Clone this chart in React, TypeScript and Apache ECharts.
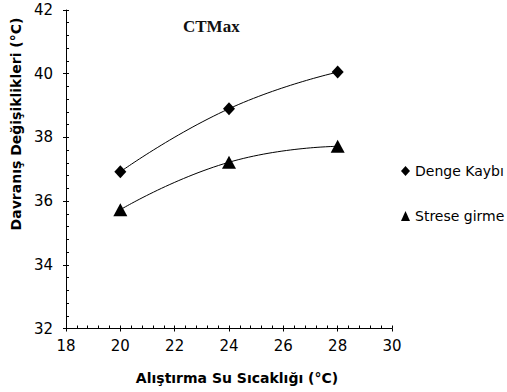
import React, { useEffect, useRef } from "react";
import * as echarts from "echarts";

const xTemps = [20, 24, 28];
const dengeKaybi = [36.92, 38.9, 40.05];
const streseGirme = [35.73, 37.22, 37.72];
const seriesNames = ["Denge Kaybı", "Strese girme"];
const chartTitle = "CTMax";
const xAxisTitle = "Alıştırma Su Sıcaklığı (°C)";
const yAxisTitle = "Davranış Değişiklikleri (°C)";

const SANS = "DejaVu Sans";

export default function App() {
  const ref = useRef<HTMLDivElement>(null);
  useEffect(() => {
    if (!ref.current) return;
    const chart = echarts.init(ref.current, null, { renderer: "svg" });
    const black = "#000";
    const xBase = {
      type: "value",
      min: 18,
      max: 30,
      interval: 2,
      position: "bottom",
      splitLine: { show: false },
    };
    const yBase = {
      type: "value",
      min: 32,
      max: 42,
      interval: 2,
      position: "left",
      splitLine: { show: false },
    };
    chart.setOption({
      animation: false,
      backgroundColor: "#fff",
      grid: { left: 66, right: 115, top: 10, bottom: 63.5, containLabel: false },
      title: {
        text: chartTitle,
        left: 178,
        top: 13,
        textStyle: {
          fontFamily: "Liberation Serif",
          fontSize: 17,
          fontWeight: "bold",
          color: "#111",
        },
      },
      legend: {
        orient: "vertical",
        left: 396,
        top: 159,
        itemWidth: 9,
        itemHeight: 10,
        itemGap: 31,
        textStyle: { fontFamily: SANS, fontSize: 14, color: black },
        data: [
          { name: seriesNames[0], icon: "diamond" },
          { name: seriesNames[1], icon: "triangle" },
        ],
      },
      xAxis: [
        {
          ...xBase,
          axisLine: { show: true, lineStyle: { color: black, width: 1 } },
          axisTick: { show: true, inside: false, length: 3, lineStyle: { color: black } },
          minorTick: { show: false },
          axisLabel: { show: true, margin: 10, fontFamily: SANS, fontSize: 15, color: black },
        },
        {
          ...xBase,
          axisLine: { show: false },
          axisTick: { show: true, inside: true, length: 3, lineStyle: { color: black } },
          minorTick: { show: true, splitNumber: 5, length: 3, lineStyle: { color: black } },
          axisLabel: { show: false },
        },
      ],
      yAxis: [
        {
          ...yBase,
          axisLine: { show: true, lineStyle: { color: black, width: 1 } },
          axisTick: { show: true, inside: false, length: 3, lineStyle: { color: black } },
          minorTick: { show: false },
          axisLabel: { show: true, margin: 13, fontFamily: SANS, fontSize: 15, color: black },
        },
        {
          ...yBase,
          axisLine: { show: false },
          axisTick: { show: true, inside: true, length: 3, lineStyle: { color: black } },
          minorTick: { show: true, splitNumber: 5, length: 3, lineStyle: { color: black } },
          axisLabel: { show: false },
        },
      ],
      graphic: [
        {
          type: "text",
          x: 237,
          y: 378,
          style: {
            text: xAxisTitle,
            fontFamily: SANS,
            fontSize: 14,
            fontWeight: "bold",
            fill: black,
            align: "center",
            verticalAlign: "middle",
          },
        },
        {
          type: "text",
          x: 16,
          y: 124,
          rotation: Math.PI / 2,
          style: {
            text: yAxisTitle,
            fontFamily: SANS,
            fontSize: 14,
            fontWeight: "bold",
            fill: black,
            align: "center",
            verticalAlign: "middle",
          },
        },
      ],
      series: [
        {
          name: seriesNames[0],
          type: "line",
          xAxisIndex: 0,
          yAxisIndex: 0,
          data: xTemps.map((x, i) => [x, dengeKaybi[i]]),
          smooth: 0.5,
          symbol: "diamond",
          symbolSize: [12, 13],
          itemStyle: { color: black },
          lineStyle: { color: black, width: 1 },
        },
        {
          name: seriesNames[1],
          type: "line",
          xAxisIndex: 0,
          yAxisIndex: 0,
          data: xTemps.map((x, i) => [x, streseGirme[i]]),
          smooth: 0.5,
          symbol: "triangle",
          symbolSize: [14, 13],
          itemStyle: { color: black },
          lineStyle: { color: black, width: 1 },
        },
      ],
    });
    return () => chart.dispose();
  }, []);
  return (
    <div
      ref={ref}
      style={{ width: 507, height: 392, position: "fixed", left: 0, top: 0 }}
    />
  );
}
